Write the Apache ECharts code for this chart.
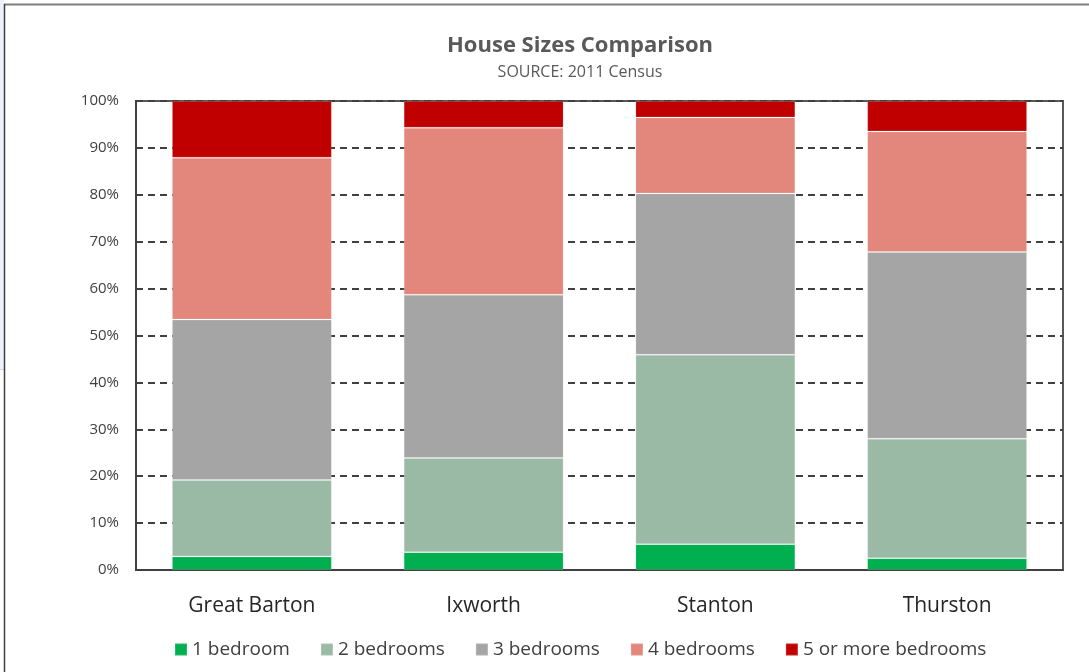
<!DOCTYPE html>
<html>
<head>
<meta charset="utf-8">
<script src="https://cdn.jsdelivr.net/npm/echarts@6/dist/echarts.min.js"></script>
<style>
html,body{margin:0;padding:0;background:#fff;}
#chart{width:1089px;height:672px;}
</style>
</head>
<body>
<div id="chart"></div>
<script>
const categories = ['Great Barton', 'Ixworth', 'Stanton', 'Thurston'];
const seriesNames = ['1 bedroom', '2 bedrooms', '3 bedrooms', '4 bedrooms', '5 or more bedrooms'];
const oneBed   = [2.9, 3.8, 5.5, 2.5];
const twoBed   = [16.3, 20.1, 40.4, 25.5];
const threeBed = [34.2, 34.8, 34.4, 39.8];
const fourBed  = [34.5, 35.6, 16.2, 25.7];
const fivePlus = [12.1, 5.7, 3.5, 6.5];
const yTicks = [0, 10, 20, 30, 40, 50, 60, 70, 80, 90, 100];

const colors = ['#00B050', '#9BBAA6', '#A5A5A5', '#E3867B', '#C00000'];
const values = [oneBed, twoBed, threeBed, fourBed, fivePlus];

const chart = echarts.init(document.getElementById('chart'));
const font = '"Open Sans", "Noto Sans", sans-serif';

chart.setOption({
  animation: false,
  textStyle: { fontFamily: font },
  title: {
    text: 'House Sizes Comparison',
    subtext: 'SOURCE: 2011 Census',
    left: 575, textAlign: 'center', top: 30,
    itemGap: 7,
    textStyle: { fontSize: 22, fontWeight: 'bold', color: '#595959', fontFamily: font },
    subtextStyle: { fontSize: 16, color: '#595959', fontFamily: font }
  },
  legend: {
    bottom: 8, left: 169,
    icon: 'rect', itemWidth: 12, itemHeight: 12, itemGap: 30,
    textStyle: { fontSize: 19, color: '#404040', fontFamily: font },
    data: seriesNames
  },
  grid: {
    left: 136, right: 26, top: 101, bottom: 102,
    show: true, borderColor: '#595959', borderWidth: 2, backgroundColor: 'transparent'
  },
  xAxis: {
    type: 'category', data: categories,
    axisLine: { show: true, lineStyle: { color: '#404040', width: 2 } },
    axisTick: { show: false },
    axisLabel: { fontSize: 21, color: '#262626', margin: 26, fontFamily: font }
  },
  yAxis: {
    type: 'value', min: yTicks[0], max: yTicks[yTicks.length - 1], interval: 10,
    axisLine: { show: true, lineStyle: { color: '#404040', width: 2 } },
    axisTick: { show: false },
    axisLabel: { formatter: '{value}%', fontSize: 15, color: '#404040', margin: 17, fontFamily: font },
    splitLine: { show: true, lineStyle: { color: '#404040', width: 2, type: [7, 5] } }
  },
  graphic: [
    { type: 'rect', shape: { x: 0, y: 0, width: 4, height: 369 }, style: { fill: '#eef2fa' }, silent: true },
    { type: 'line', shape: { x1: 0, y1: 369.5, x2: 4, y2: 369.5 }, style: { stroke: '#c9d6ee', lineWidth: 1 }, silent: true },
    { type: 'line', shape: { x1: 4, y1: 4.5, x2: 1089, y2: 4.5 }, style: { stroke: '#7f7f7f', lineWidth: 2 }, silent: true },
    { type: 'line', shape: { x1: 4.5, y1: 4, x2: 4.5, y2: 672 }, style: { stroke: '#404040', lineWidth: 1.5 }, silent: true }
  ],
  series: seriesNames.map((name, i) => ({
    name: name,
    type: 'bar',
    stack: 'total',
    barWidth: '69%',
    data: values[i],
    itemStyle: { color: colors[i], borderColor: 'rgba(255,255,255,0.15)', borderWidth: 1 },
    z: 3
  }))
});
</script>
</body>
</html>
